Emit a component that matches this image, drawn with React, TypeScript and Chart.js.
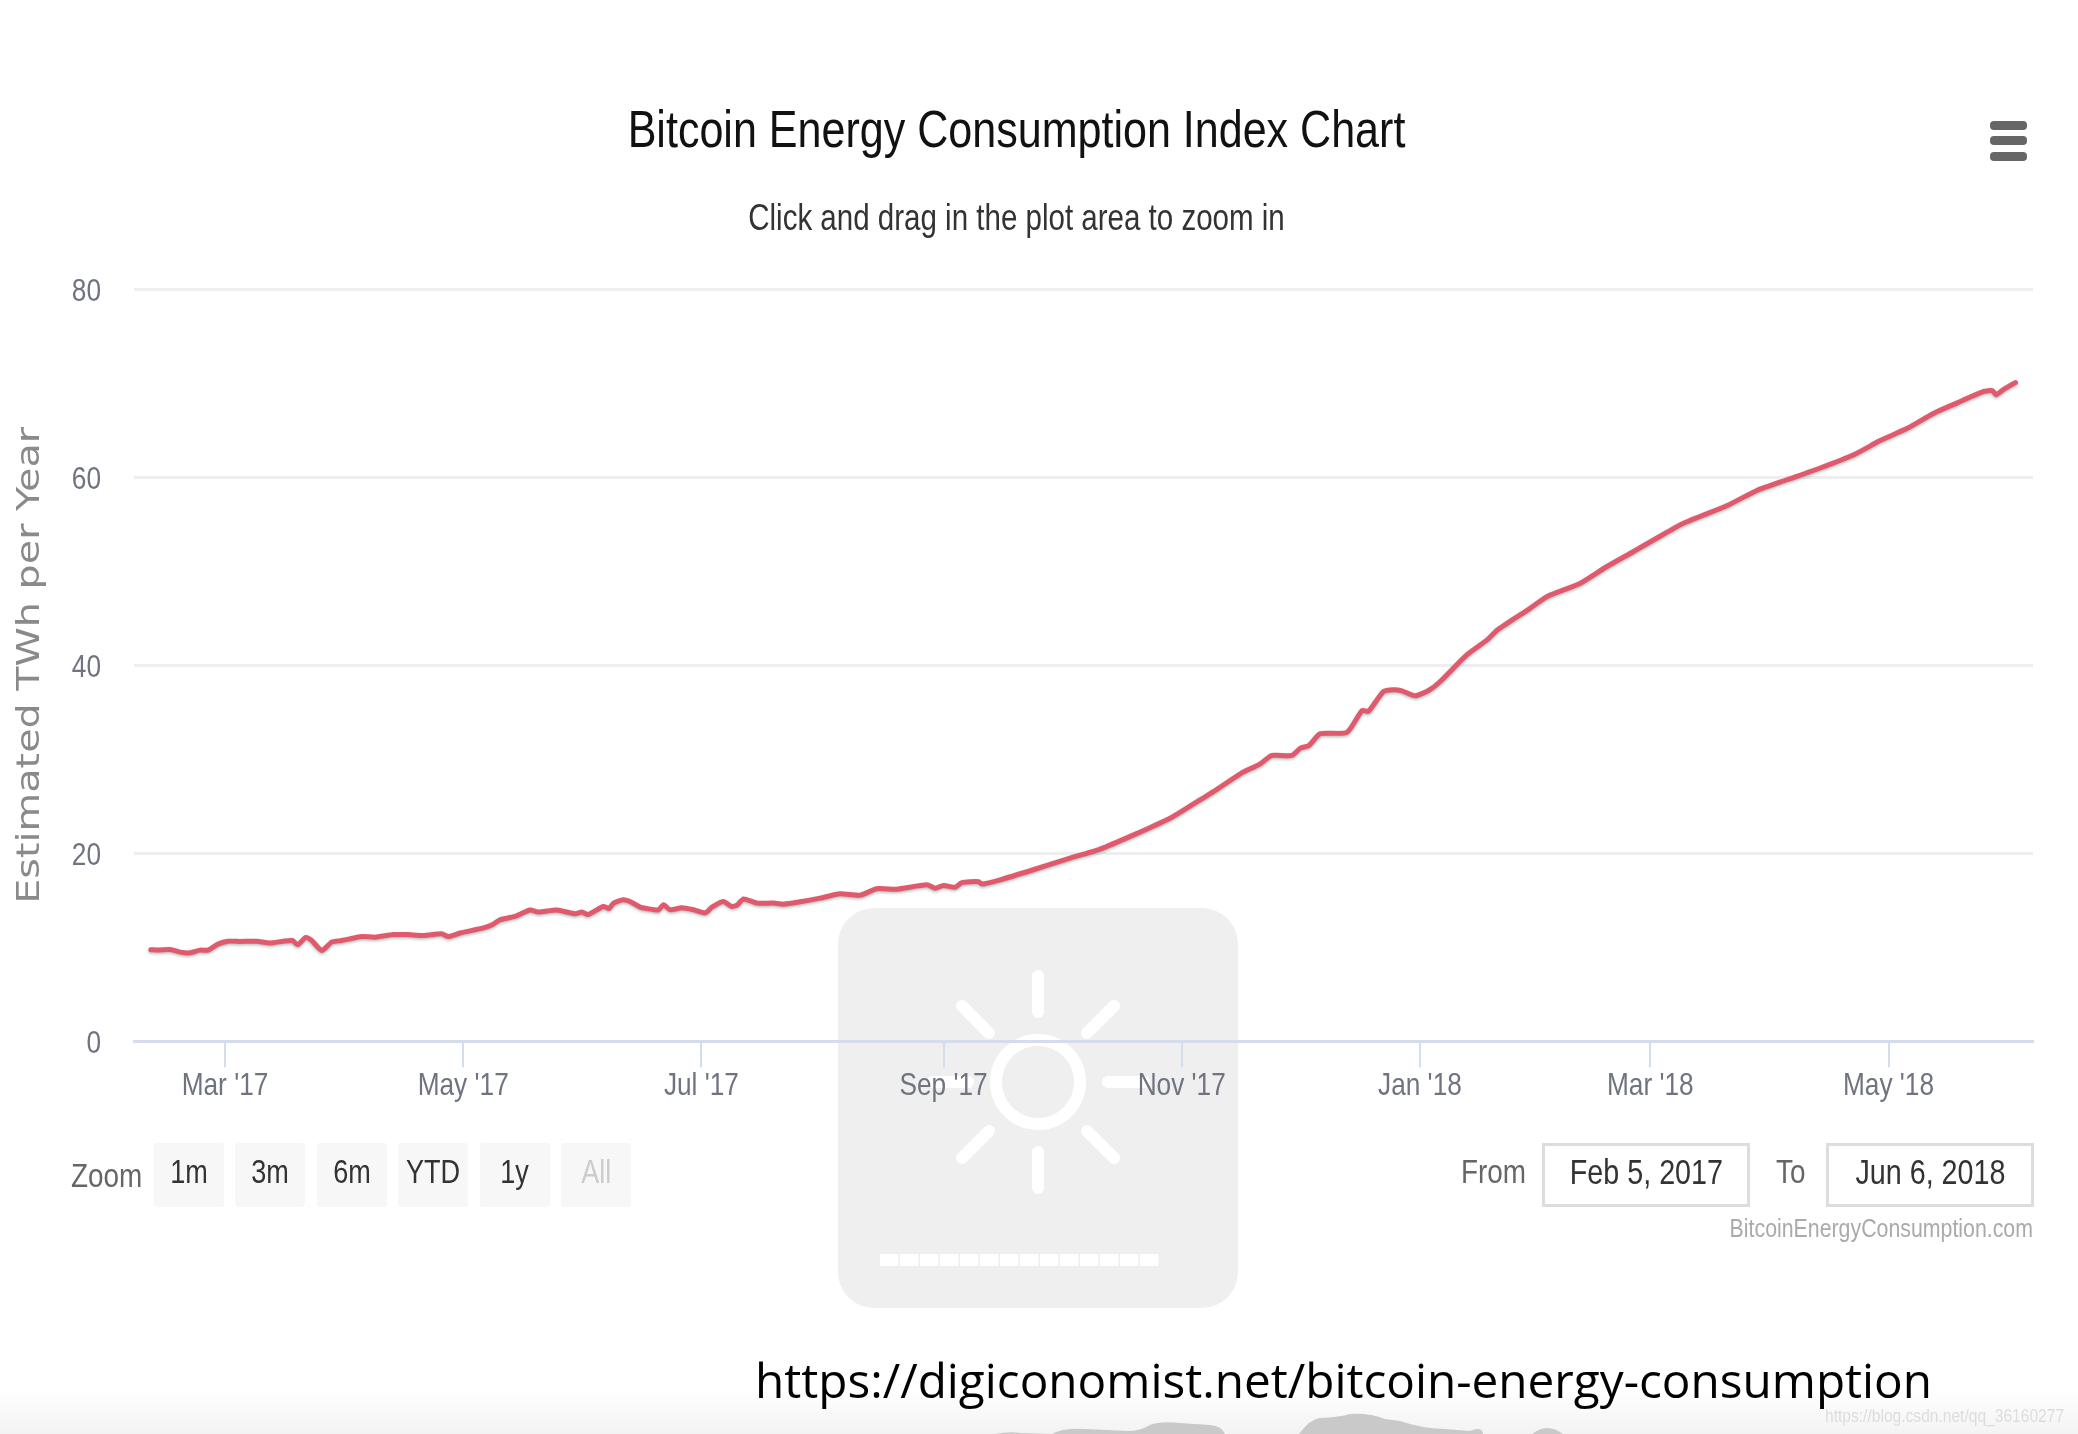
import { useEffect, useRef } from 'react';
import { Chart, registerables } from 'chart.js';

Chart.register(...registerables);

const FONT = '"Liberation Sans", sans-serif';
const NARROW = 0.82; // the screenshot text is squeezed, no condensed font is installed
const WIDE = 1.24; // the axis title is stretched along its length

// days counted from Mar 1 2017
const days = [
  -19, -17, -14, -11.5, -9, -6.4, -4.4, -1.8, 0.8, 3.8, 8.1, 11.5, 14.9, 17.3, 18.6, 20.7, 22.2, 24.8, 27.3, 29.9,
  31.6, 35, 38.4, 43.1, 46.5, 50.8, 55.5, 57.2, 60.2, 66.2, 68.7, 70.4, 74.7, 78.1, 80.3, 85, 89.7, 91.4, 93, 96.9,
  98.4, 99.5, 102, 104.2, 106.3, 108, 111, 112.3, 114, 117, 120, 123, 124.7, 127.6, 129.8, 131.2, 132.8, 136.2, 140.4, 143,
  147.3, 152.4, 157.5, 162.7, 166.9, 172, 179.7, 181.9, 184, 187, 188.7, 193, 193.8, 198.5, 207, 215.6, 224.1, 232.7, 242, 246.3,
  253.2, 260, 265.1, 268.1, 273.2, 275.4, 277.5, 280.5, 287.3, 291.2, 292.8, 296.7, 299.3, 301.4, 304.8, 308.2, 311.2, 318, 323.2, 326,
  334.3, 338.6, 347.1, 353.9, 360.7, 366.7, 373.6, 384.7, 392.3, 400, 408.5, 417.1, 423.9, 430.8, 437.6, 443.6, 450.4, 452.6, 453.5, 455.6,
  458.5,
];
const consumption = [
  9.74, 9.7, 9.77, 9.49, 9.41, 9.7, 9.7, 10.34, 10.65, 10.62, 10.65, 10.45, 10.65, 10.72, 10.26, 11.05, 10.72, 9.66, 10.55, 10.72,
  10.87, 11.15, 11.08, 11.35, 11.35, 11.25, 11.43, 11.15, 11.52, 12.06, 12.46, 12.92, 13.35, 13.97, 13.75, 13.97, 13.56, 13.75, 13.49, 14.34,
  14.13, 14.7, 15.05, 14.77, 14.27, 14.13, 13.97, 14.52, 13.99, 14.2, 13.99, 13.67, 14.27, 14.87, 14.34, 14.52, 15.15, 14.7, 14.7, 14.59,
  14.84, 15.23, 15.69, 15.55, 16.23, 16.18, 16.65, 16.28, 16.58, 16.38, 16.88, 16.98, 16.73, 17.18, 18.25, 19.39, 20.45, 21.96, 23.74, 24.81,
  26.58, 28.46, 29.52, 30.41, 30.41, 31.19, 31.44, 32.72, 32.86, 35.2, 35.09, 37.22, 37.4, 37.28, 36.76, 37.32, 38.28, 41.1, 42.7, 43.81,
  46.09, 47.33, 48.73, 50.51, 52.11, 53.54, 55.13, 57.0, 58.6, 59.74, 60.99, 62.4, 63.91, 65.21, 66.82, 67.92, 69.13, 69.23, 68.78, 69.38,
  70.08,
];

const monthTicks = [0, 61, 122, 184, 245, 306, 365, 426];
const monthLabels = ["Mar '17", "May '17", "Jul '17", "Sep '17", "Nov '17", "Jan '18", "Mar '18", "May '18"];
const rangeButtons = ['1m', '3m', '6m', 'YTD', '1y', 'All'];

// squeeze or stretch every text the chart draws, keeps it real text
const textStretch = {
  id: 'textStretch',
  beforeInit(chart: Chart) {
    const ctx = chart.ctx;
    const fillText = ctx.fillText.bind(ctx);
    ctx.fillText = (text: string, x: number, y: number) => {
      const k = ctx.font.includes('DejaVu') ? WIDE : NARROW;
      ctx.save();
      ctx.translate(x, y);
      ctx.scale(k, 1);
      fillText(text, 0, 0);
      ctx.restore();
    };
  },
};

// soft shadow under the series, the picture is a blurry screenshot
const lineShadow = {
  id: 'lineShadow',
  beforeDatasetDraw(chart: Chart) {
    chart.ctx.save();
    chart.ctx.shadowColor = 'rgba(50,70,70,0.35)';
    chart.ctx.shadowBlur = 3;
    chart.ctx.shadowOffsetY = 1.5;
  },
  afterDatasetDraw(chart: Chart) {
    chart.ctx.restore();
  },
};

const label = (text: string, style: React.CSSProperties) => (
  <div
    style={{
      position: 'absolute',
      whiteSpace: 'nowrap',
      fontFamily: FONT,
      lineHeight: 1,
      transform: `scaleX(${NARROW})`,
      transformOrigin: style.right !== undefined ? 'right' : 'left',
      ...style,
    }}
  >
    {text}
  </div>
);

const Backdrop = () => (
  <svg width={2078} height={1434} style={{ position: 'absolute', left: 0, top: 0 }}>
    <defs>
      <linearGradient id="foot" x1="0" y1="0" x2="0" y2="1">
        <stop offset="0" stopColor="#ffffff" />
        <stop offset="1" stopColor="#f3f3f3" />
      </linearGradient>
    </defs>
    <rect x={0} y={1390} width={2078} height={44} fill="url(#foot)" />
    <path
      d="M995 1434 Q1010 1431 1020 1433 L1052 1434 Q1062 1428 1085 1429 L1128 1431 Q1140 1431 1150 1425 Q1160 1421 1180 1423 L1210 1425 Q1222 1426 1225 1434 Z"
      fill="#c9c9c9"
    />
    <path
      d="M1299 1434 Q1310 1419 1320 1418 Q1340 1417 1350 1414 Q1370 1413 1385 1419 L1400 1421 Q1420 1428 1445 1429 L1470 1431 Q1482 1426 1483 1434 Z M1532 1434 Q1547 1422 1563 1434 Z"
      fill="#c9c9c9"
    />
    <rect x={838} y={908} width={400} height={400} rx={36} fill="#efefef" />
    <g stroke="#ffffff" strokeWidth={12} strokeLinecap="round" fill="none">
      <circle cx={1038} cy={1082} r={42} />
      <path d="M1038 976 V1012 M1038 1152 V1188 M932 1082 H968 M1108 1082 H1144" />
      <path d="M962 1006 L989 1033 M1114 1006 L1087 1033 M962 1158 L989 1131 M1114 1158 L1087 1131" />
    </g>
    {Array.from({ length: 14 }, (_, i) => (
      <rect key={i} x={880 + i * 20} y={1254} width={18.3} height={12} fill="#ffffff" />
    ))}
  </svg>
);

export default function App() {
  const canvasRef = useRef<HTMLCanvasElement>(null);

  useEffect(() => {
    document.body.style.margin = '0';
    if (!canvasRef.current) return;
    const chart = new Chart(canvasRef.current, {
      type: 'line',
      plugins: [textStretch, lineShadow],
      data: {
        datasets: [
          {
            label: 'Estimated TWh per Year',
            data: days.map((d, i) => ({ x: d, y: consumption[i] })),
            borderColor: '#e05a6e',
            borderWidth: 5,
            borderJoinStyle: 'round',
            borderCapStyle: 'round',
            pointRadius: 0,
            tension: 0.2,
          },
        ],
      },
      options: {
        animation: false,
        responsive: false,
        layout: { padding: { left: 0, right: 45, top: 0, bottom: 0 } },
        plugins: {
          legend: { display: false },
          tooltip: { enabled: false },
          title: {
            display: true,
            text: 'Bitcoin Energy Consumption Index Chart',
            color: '#111111',
            font: { family: FONT, size: 52.5, weight: 'normal' },
            padding: { top: 101, bottom: 0 },
          },
          subtitle: {
            display: true,
            text: 'Click and drag in the plot area to zoom in',
            color: '#333333',
            font: { family: FONT, size: 36, weight: 'normal' },
            padding: { top: 34, bottom: 48.1 },
          },
        },
        scales: {
          x: {
            type: 'linear',
            min: -23.3,
            max: 463,
            afterBuildTicks(scale) {
              scale.ticks = monthTicks.map((value) => ({ value }));
            },
            afterFit(scale) {
              scale.height = 392.7;
            },
            ticks: {
              autoSkip: false,
              maxRotation: 0,
              padding: 0,
              color: '#6f7480',
              font: { family: FONT, size: 32 },
              callback: (_v, i) => monthLabels[i],
            },
            grid: { drawOnChartArea: false, color: '#d5dcee', lineWidth: 2, tickLength: 26 },
            border: { color: '#d5dcee', width: 3 },
          },
          y: {
            min: 0,
            max: 80,
            afterFit(scale) {
              scale.width = 134;
            },
            ticks: {
              stepSize: 20,
              padding: 33,
              labelOffset: 2.5,
              color: '#6f7480',
              font: { family: FONT, size: 32 },
            },
            grid: { color: '#eeeeee', lineWidth: 3, drawTicks: false },
            border: { display: false },
            title: {
              display: true,
              text: 'Estimated TWh per Year',
              color: '#8a8a8a',
              font: { family: '"DejaVu Sans", sans-serif', size: 32 },
              padding: { top: 11, bottom: 0 },
            },
          },
        },
      },
    });
    return () => chart.destroy();
  }, []);

  return (
    <div style={{ position: 'absolute', left: 0, top: 0, width: 2078, height: 1434, overflow: 'hidden', background: '#fff' }}>
      <Backdrop />
      <canvas ref={canvasRef} width={2078} height={1434} style={{ position: 'absolute', left: 0, top: 0 }} />

      {[121, 136, 152].map((top) => (
        <div key={top} style={{ position: 'absolute', left: 1990, top, width: 37, height: 9, borderRadius: 4, background: '#666' }} />
      ))}

      {label('Zoom', { left: 71, top: 1158, fontSize: 34, color: '#666' })}
      {rangeButtons.map((text, i) => (
        <div
          key={text}
          style={{
            position: 'absolute',
            left: 154 + i * 81.4,
            top: 1143,
            width: 70,
            height: 64,
            borderRadius: 3,
            background: '#f7f7f7',
            color: text === 'All' ? '#cccccc' : '#333333',
            fontFamily: FONT,
            fontSize: 33,
            lineHeight: '58px',
            textAlign: 'center',
          }}
        >
          <span style={{ display: 'inline-block', transform: `scaleX(${NARROW})` }}>{text}</span>
        </div>
      ))}

      {label('From', { left: 1461, top: 1154, fontSize: 34, color: '#666' })}
      {label('To', { left: 1776, top: 1154, fontSize: 34, color: '#666' })}
      {[
        { left: 1542, text: 'Feb 5, 2017' },
        { left: 1826, text: 'Jun 6, 2018' },
      ].map((box) => (
        <div
          key={box.text}
          style={{
            position: 'absolute',
            left: box.left,
            top: 1143,
            width: 208,
            height: 64,
            boxSizing: 'border-box',
            border: '3px solid #dddddd',
            color: '#333333',
            fontFamily: FONT,
            fontSize: 35,
            lineHeight: '52px',
            textAlign: 'center',
          }}
        >
          <span style={{ display: 'inline-block', transform: `scaleX(${NARROW})` }}>{box.text}</span>
        </div>
      ))}
      {label('BitcoinEnergyConsumption.com', { right: 45, top: 1215, fontSize: 26, color: '#aaaaaa' })}

      {label('https://digiconomist.net/bitcoin-energy-consumption', {
        left: 755,
        top: 1356,
        fontSize: 47.7,
        color: '#000',
        fontFamily: '"Open Sans", sans-serif',
        transform: 'none',
      })}
      {label('https://blog.csdn.net/qq_36160277', { left: 1825, top: 1406, fontSize: 19, color: '#dddddd' })}
    </div>
  );
}
